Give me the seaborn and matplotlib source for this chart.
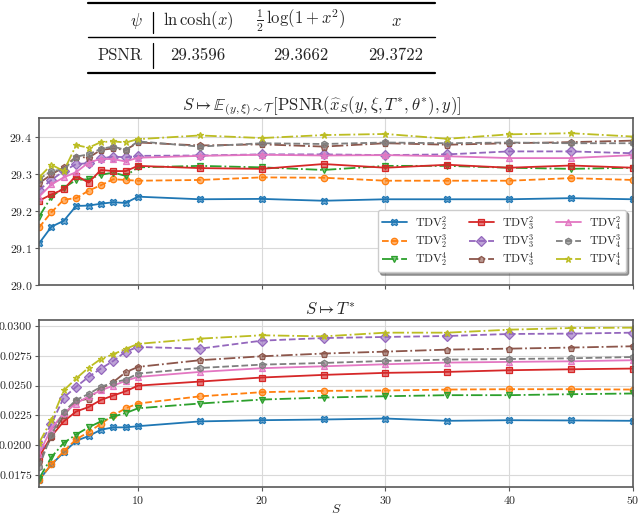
import matplotlib as mpl
import matplotlib.pyplot as plt
import numpy as np
import pandas as pd
import seaborn as sns
from matplotlib.lines import Line2D
from matplotlib.ticker import MultipleLocator

S = [2, 3, 4, 5, 6, 7, 8, 9, 10, 15, 20, 25, 30, 35, 40, 45, 50]

# legend order (column-wise): TDV_2^2, TDV_2^3, TDV_2^4, TDV_3^2, ...
labels = [r"$\mathrm{TDV}_{%d}^{%d}$" % (sub, sup) for sub in (2, 3, 4) for sup in (2, 3, 4)]
colors = ["C0", "C1", "C2", "C3", "C4", "C5", "C6", "C7", "C8"]
markers = ["X", "o", "v", "s", "D", "p", "^", "h", "*"]
linestyles = ["-", "--", "-.", "-", "--", "-.", "-", "--", "-."]

psnr = [
    [29.112, 29.157, 29.173, 29.213, 29.214, 29.219, 29.223, 29.221, 29.238, 29.231, 29.232, 29.227, 29.231, 29.231, 29.231, 29.234, 29.231],
    [29.155, 29.196, 29.230, 29.234, 29.254, 29.269, 29.285, 29.283, 29.281, 29.283, 29.290, 29.289, 29.281, 29.281, 29.281, 29.288, 29.283],
    [29.184, 29.238, 29.262, 29.283, 29.285, 29.297, 29.303, 29.294, 29.317, 29.321, 29.317, 29.310, 29.321, 29.321, 29.316, 29.313, 29.316],
    [29.227, 29.244, 29.258, 29.295, 29.276, 29.310, 29.307, 29.307, 29.321, 29.315, 29.313, 29.326, 29.316, 29.324, 29.316, 29.322, 29.316],
    [29.256, 29.283, 29.307, 29.326, 29.328, 29.341, 29.346, 29.344, 29.348, 29.349, 29.352, 29.352, 29.350, 29.352, 29.360, 29.360, 29.355],
    [29.274, 29.298, 29.317, 29.346, 29.343, 29.364, 29.368, 29.364, 29.384, 29.376, 29.379, 29.373, 29.382, 29.378, 29.382, 29.385, 29.389],
    [29.238, 29.271, 29.290, 29.304, 29.330, 29.340, 29.339, 29.333, 29.343, 29.348, 29.351, 29.349, 29.350, 29.347, 29.342, 29.342, 29.350],
    [29.285, 29.308, 29.310, 29.346, 29.352, 29.367, 29.373, 29.364, 29.387, 29.373, 29.382, 29.380, 29.384, 29.382, 29.384, 29.382, 29.382],
    [29.290, 29.324, 29.307, 29.377, 29.370, 29.385, 29.387, 29.384, 29.393, 29.403, 29.396, 29.404, 29.407, 29.394, 29.406, 29.409, 29.400],
]

tstar = [
    [0.01708, 0.01839, 0.0194, 0.02037, 0.02077, 0.0213, 0.0215, 0.0215, 0.0216, 0.0220, 0.0221, 0.02216, 0.02224, 0.02205, 0.0221, 0.02208, 0.02205],
    [0.0171, 0.0184, 0.0195, 0.0205, 0.0211, 0.0218, 0.0225, 0.0231, 0.0235, 0.0241, 0.02445, 0.02456, 0.02459, 0.02467, 0.0247, 0.0247, 0.02467],
    [0.0172, 0.0190, 0.0202, 0.0209, 0.0215, 0.0220, 0.0224, 0.0227, 0.0231, 0.0235, 0.02383, 0.0240, 0.02411, 0.0242, 0.0242, 0.02428, 0.02434],
    [0.01903, 0.02076, 0.0220, 0.02283, 0.0232, 0.0238, 0.02417, 0.02453, 0.0250, 0.02534, 0.02568, 0.0259, 0.02607, 0.02615, 0.02629, 0.02637, 0.02643],
    [0.0199, 0.0218, 0.0240, 0.0249, 0.02573, 0.02643, 0.02707, 0.02785, 0.02824, 0.0281, 0.02877, 0.02899, 0.02908, 0.02916, 0.02933, 0.02936, 0.02944],
    [0.0186, 0.0207, 0.0225, 0.0237, 0.0239, 0.02475, 0.0253, 0.02612, 0.02657, 0.02713, 0.02746, 0.02769, 0.02785, 0.02802, 0.0281, 0.02819, 0.0283],
    [0.0193, 0.0214, 0.0227, 0.0235, 0.0241, 0.0246, 0.0250, 0.0254, 0.02573, 0.02615, 0.02646, 0.02662, 0.02679, 0.02693, 0.02699, 0.02704, 0.02713],
    [0.0182, 0.0209, 0.0228, 0.0238, 0.0243, 0.0249, 0.02526, 0.0255, 0.02601, 0.02648, 0.02676, 0.0269, 0.02707, 0.02718, 0.02723, 0.02729, 0.0274],
    [0.0202, 0.0221, 0.0246, 0.0256, 0.0265, 0.02724, 0.02763, 0.02808, 0.0285, 0.02894, 0.02922, 0.02913, 0.02944, 0.02944, 0.02969, 0.02983, 0.02986],
]

table_header = [r"$\psi$", r"$\ln\cosh(x)$", r"$\frac{1}{2}\,\log(1+x^2)$", r"$x$"]
table_row = ["PSNR", "29.3596", "29.3662", "29.3722"]

sns.set_style("whitegrid", {"axes.edgecolor": "0.35", "grid.color": "0.85"})
mpl.rcParams.update({
    "font.family": "serif",
    "font.serif": ["cmr10", "DejaVu Serif"],
    "mathtext.fontset": "cm",
    "axes.formatter.use_mathtext": True,
    "axes.unicode_minus": False,
    "font.size": 9,
})

fig = plt.figure(figsize=(6.4, 5.16), dpi=100)
ax1 = fig.add_axes([0.061, 0.4477, 0.928, 0.3236])
ax2 = fig.add_axes([0.061, 0.0562, 0.928, 0.3236], sharex=ax1)

for i, lab in enumerate(labels):
    d1 = pd.DataFrame({"S": S, "v": psnr[i]})
    d2 = pd.DataFrame({"S": S, "v": tstar[i]})
    face = mpl.colors.to_rgba(colors[i], 0.6)
    for ax, d in ((ax1, d1), (ax2, d2)):
        sns.lineplot(data=d, x="S", y="v", color=colors[i], marker=markers[i],
                     linestyle=linestyles[i], markersize=4.6, linewidth=1.3,
                     markeredgewidth=0.9, markeredgecolor=colors[i],
                     markerfacecolor=face, label=lab, ax=ax,
                     legend=ax is ax1)

for ax in (ax1, ax2):
    ax.set_xlim(2, 50)
    ax.set_ylabel(None)
    ax.set_xticks([10, 20, 30, 40, 50])
    ax.tick_params(labelsize=8.5, length=3, pad=2, color="0.35")
    ax.tick_params(axis="both", which="major", bottom=True, left=True)
    for sp in ax.spines.values():
        sp.set_linewidth(1.2)

ax1.set_ylim(29.0, 29.45)
ax1.yaxis.set_major_locator(MultipleLocator(0.1))
ax1.set_xlabel(None)
ax1.tick_params(labelbottom=False)
ax1.set_title(r"$S \mapsto \mathbb{E}_{(y,\xi)\sim\mathcal{T}}\,[\mathrm{PSNR}(\widehat{x}_S(y,\xi,T^{*},\theta^{*}),y)]$",
              fontsize=12, pad=4, x=0.475)

ax2.set_ylim(0.0165, 0.0305)
ax2.yaxis.set_major_locator(MultipleLocator(0.0025))
ax2.yaxis.set_major_formatter(mpl.ticker.FormatStrFormatter("%.4f"))
ax2.set_xlabel(r"$S$", fontsize=9.5, labelpad=-2)
ax2.set_title(r"$S \mapsto T^{*}$", fontsize=12, pad=4, x=0.49)

ax1.legend(ncol=3, loc="lower right", fontsize=8.5, frameon=True, fancybox=True,
           shadow=True, borderpad=0.35, columnspacing=1.8, handlelength=2.1,
           handletextpad=0.7, labelspacing=0.02, bbox_to_anchor=(0.998, 0.04))

# table at the top
H, W = 516, 640
def fx(px):
    return px / W
def fy(py):
    return 1 - py / H

for y, lw in ((2.7, 1.6), (37, 1.0), (73, 1.6)):
    fig.add_artist(Line2D([fx(88), fx(435)], [fy(y), fy(y)], color="black", lw=lw))
for y0, y1 in ((12, 33), (43, 68)):
    fig.add_artist(Line2D([fx(153), fx(153)], [fy(y0), fy(y1)], color="black", lw=0.9))

col_x = [143, 198, 301, 396]
for j, (h, r) in enumerate(zip(table_header, table_row)):
    ha = "right" if j == 0 else "center"
    fig.text(fx(col_x[j]), fy(21), h, ha=ha, va="center", fontsize=12)
    fig.text(fx(col_x[j]), fy(55), r, ha=ha, va="center", fontsize=12)

fig.savefig("out.png", dpi=100)
